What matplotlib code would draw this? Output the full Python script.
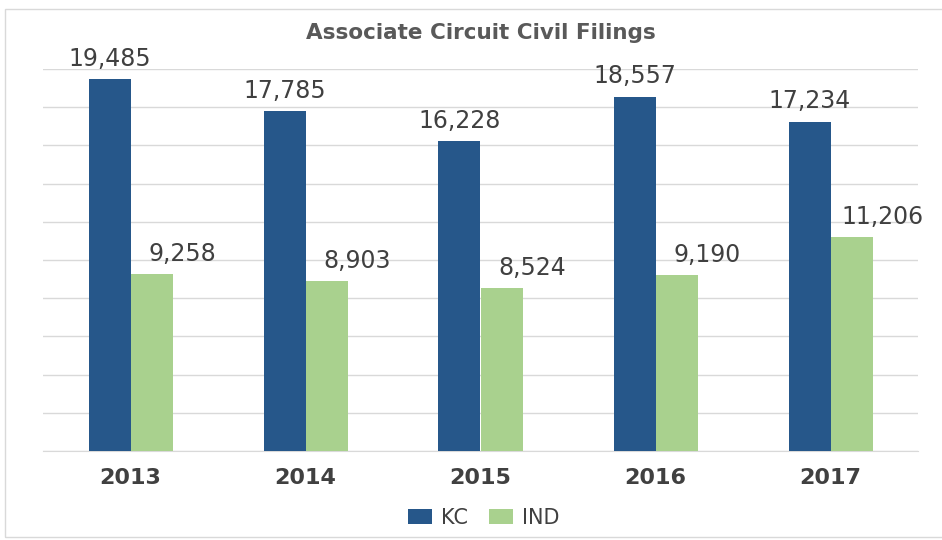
import matplotlib.pyplot as plt
import numpy as np
from matplotlib.patches import Rectangle

# данные
years = ["2013", "2014", "2015", "2016", "2017"]
kc_values = [19485, 17785, 16228, 18557, 17234]
ind_values = [9258, 8903, 8524, 9190, 11206]

KC_COLOR = "#26578A"
IND_COLOR = "#A9D18E"
TEXT_COLOR = "#404040"

fig = plt.figure(figsize=(9.42, 5.4), dpi=100, facecolor="white")
# рамка области диаграммы
fig.patches.append(Rectangle((5 / 942, 3 / 540), 945 / 942, 528 / 540,
                             transform=fig.transFigure, fill=False,
                             edgecolor="#D9D9D9", linewidth=1.0))

ax = fig.add_axes([43 / 942, 1 - 451 / 540, 875 / 942, 382 / 540])

x = np.arange(len(years))
width = 0.24
bars_kc = ax.bar(x - width / 2, kc_values, width, color=KC_COLOR, label="KC", zorder=3)
bars_ind = ax.bar(x + width / 2, ind_values, width, color=IND_COLOR, label="IND", zorder=3)

# подписи значений (у IND сдвинуты вправо, как в оригинале)
for bars, dx in ((bars_kc, 0), (bars_ind, 22)):
    for b in bars:
        ax.annotate(f"{int(b.get_height()):,}",
                    xy=(b.get_x() + b.get_width() / 2, b.get_height()),
                    xytext=(dx, 6), textcoords="offset points",
                    ha="center", va="bottom", fontsize=17,
                    family="DejaVu Sans", color=TEXT_COLOR, annotation_clip=False)

ax.set_xlim(-0.5, len(years) - 0.5)
ax.set_ylim(0, 20000)
ax.set_yticks(np.arange(0, 20001, 2000))
ax.set_yticklabels([])
ax.yaxis.grid(True, color="#D9D9D9", linewidth=1.0, zorder=0)
ax.tick_params(axis="both", length=0)
ax.set_xticks(x)
ax.set_xticklabels(years, fontsize=16, fontweight="bold", color=TEXT_COLOR,
                   family="DejaVu Sans")
ax.tick_params(axis="x", pad=12)
for side in ("top", "right", "left"):
    ax.spines[side].set_visible(False)
ax.spines["bottom"].set_color("#D9D9D9")

fig.text(481 / 942, 1 - 33 / 540, "Associate Circuit Civil Filings",
         ha="center", va="center", fontsize=15.5, fontweight="bold",
         color="#595959", family="DejaVu Sans")

fig.legend(handles=[bars_kc, bars_ind], labels=["KC", "IND"],
           loc="center", bbox_to_anchor=(484 / 942, 1 - 518 / 540), ncol=2,
           frameon=False, fontsize=15, handlelength=1.15, handleheight=0.7,
           handletextpad=0.45, columnspacing=1.0, labelcolor=TEXT_COLOR)

fig.savefig("out.png", dpi=100, facecolor="white")
